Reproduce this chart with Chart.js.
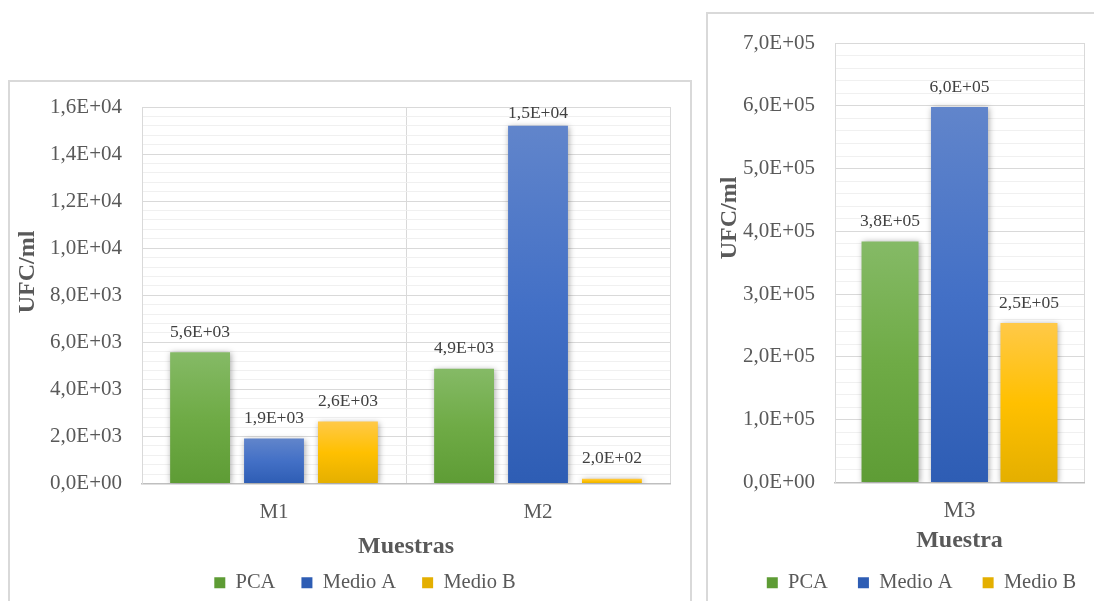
<!DOCTYPE html>
<html>
<head>
<meta charset="utf-8">
<script src="https://cdn.jsdelivr.net/npm/chart.js@4.4.1/dist/chart.umd.min.js"></script>
<style>
  html, body { margin: 0; padding: 0; background: #fff; overflow: hidden; width: 1094px; height: 601px; }
  .frame { position: absolute; box-sizing: border-box; border: 2px solid #d9d9d9; }
  canvas { position: absolute; }
</style>
</head>
<body>
<div class="frame" style="left:8px;top:80px;width:684px;height:560px"></div>
<div class="frame" style="left:706px;top:12px;width:420px;height:620px"></div>
<canvas id="chart-m12" width="710" height="522" style="left:10px;top:81px"></canvas>
<canvas id="chart-m3" width="427" height="590" style="left:708px;top:13px"></canvas>
<script>
// Samples M1 and M2
const samplesLeft = ['M1', 'M2'];
const pcaLeft = [5580, 4880];
const medioALeft = [1910, 15200];
const medioBLeft = [2630, 200];

// Sample M3
const samplesRight = ['M3'];
const pcaRight = [384000];
const medioARight = [598000];
const medioBRight = [254000];

const seriesNames = ['PCA', 'Medio A', 'Medio B'];

// y axis ranges: max, labelled step, minor grid step
const yLeft = [16000, 2000, 400];
const yRight = [700000, 100000, 20000];

const serif = '"Liberation Serif", "Times New Roman", serif';
Chart.defaults.font.family = serif;

// light / base / dark shade for each series
const fills = [
    ['#85ba66', '#6fab46', '#5e9c35'],
    ['#6185cb', '#4370c6', '#2e5db4'],
    ['#ffc948', '#ffc000', '#e4af00']
];

// 1,6E+04 style number
function sci(v) {
    const [m, e] = v.toExponential(1).split('e');
    return m.replace('.', ',') + 'E' + e[0] + e.slice(1).padStart(2, '0');
}

function barFill(c, stops) {
    const y = c.chart.scales.y;
    if (c.type !== 'data' || !y) return stops[1];
    const top = y.getPixelForValue(c.raw);
    const base = y.getPixelForValue(0);
    if (!isFinite(top) || !isFinite(base) || top === base) return stops[1];
    const g = c.chart.ctx.createLinearGradient(0, top, 0, base);
    g.addColorStop(0, stops[0]);
    g.addColorStop(0.5, stops[1]);
    g.addColorStop(1, stops[2]);
    return g;
}

// soft shadow under the bars, value labels above them
const barDecor = {
    id: 'barDecor',
    beforeDatasetsDraw(chart) {
        const ctx = chart.ctx;
        ctx.save();
        ctx.shadowColor = 'rgba(0, 0, 0, 0.35)';
        ctx.shadowBlur = 6;
        ctx.shadowOffsetX = 1;
        ctx.shadowOffsetY = 1;
    },
    afterDatasetsDraw(chart) {
        const ctx = chart.ctx;
        ctx.restore();
        ctx.save();
        ctx.font = '17.5px ' + serif;
        ctx.fillStyle = '#404040';
        ctx.textAlign = 'center';
        ctx.textBaseline = 'middle';
        chart.data.datasets.forEach((ds, i) => {
            chart.getDatasetMeta(i).data.forEach((bar, j) => {
                const y = Math.max(bar.y - 20, chart.chartArea.top + 6);
                ctx.fillText(sci(ds.data[j]), bar.x, y);
            });
        });
        ctx.restore();
    }
};

// rotated y axis title
const sideTitle = {
    id: 'sideTitle',
    afterDraw(chart, args, opts) {
        const ctx = chart.ctx;
        ctx.save();
        ctx.translate(opts.x, opts.y);
        ctx.rotate(-Math.PI / 2);
        ctx.font = 'bold 24px ' + serif;
        ctx.fillStyle = '#595959';
        ctx.textAlign = 'center';
        ctx.textBaseline = 'middle';
        ctx.fillText(opts.text, 0, 0);
        ctx.restore();
    }
};

function buildChart(id, o) {
    const [max, major, minor] = o.range;
    const isMajor = v => Math.abs(v % major) < 1e-6;
    return new Chart(document.getElementById(id), {
        type: 'bar',
        data: {
            labels: o.labels,
            datasets: o.series.map((vals, i) => ({
                label: seriesNames[i],
                data: vals,
                yAxisID: 'y',
                backgroundColor: c => barFill(c, fills[i]),
                borderWidth: 0,
                categoryPercentage: o.catPct,
                barPercentage: o.barPct
            }))
        },
        plugins: [barDecor, sideTitle],
        options: {
            responsive: false,
            animation: false,
            devicePixelRatio: 1,
            events: [],
            layout: { padding: { top: o.padTop, left: 0, right: 0, bottom: 0 } },
            plugins: {
                tooltip: { enabled: false },
                legend: {
                    position: 'bottom',
                    labels: {
                        boxWidth: 11,
                        boxHeight: 11,
                        padding: o.legendGap,
                        color: '#595959',
                        font: { family: serif, size: 20.5 }
                    }
                },
                sideTitle: { text: 'UFC/ml', x: o.titleX, y: o.titleY }
            },
            scales: {
                x: {
                    grid: { color: '#d9d9d9', drawTicks: false },
                    border: { color: '#bfbfbf', width: 1.5 },
                    ticks: { color: '#595959', padding: o.xTickPad, font: { family: serif, size: o.catSize } },
                    title: {
                        display: true,
                        text: o.xTitle,
                        color: '#595959',
                        font: { family: serif, size: 24, weight: 'bold' },
                        padding: { top: 0, bottom: o.xTitleShift }
                    },
                    afterFit: s => { s.height = o.xHeight; }
                },
                y: {
                    min: 0,
                    max: max,
                    grid: {
                        drawTicks: false,
                        color: c => (c.tick && isMajor(c.tick.value)) ? '#d9d9d9' : '#f0f0f0'
                    },
                    border: { color: '#d9d9d9' },
                    ticks: {
                        stepSize: minor,
                        autoSkip: false,
                        padding: 20,
                        color: '#595959',
                        font: { family: serif, size: 21 },
                        callback: v => isMajor(v) ? sci(v) : ''
                    },
                    // fixed width; the layout padding already leaves room for the end labels
                    afterFit: s => {
                        s.width = o.yWidth;
                        s.paddingTop = 0;
                        s.paddingBottom = 0;
                    }
                },
                // empty spacer on the right so the legend sits centred in the frame
                pad: {
                    type: 'linear',
                    position: 'right',
                    grid: { display: false },
                    border: { display: false },
                    ticks: { display: false },
                    afterFit: s => { s.width = o.padRight; }
                }
            }
        }
    });
}

buildChart('chart-m12', {
    labels: samplesLeft,
    series: [pcaLeft, medioALeft, medioBLeft],
    range: yLeft,
    padTop: 26,
    catPct: 0.84,
    barPct: 0.81,
    legendGap: 26,
    titleX: 18,
    titleY: 191,
    xTitle: 'Muestras',
    xTickPad: 16,
    catSize: 21,
    xTitleShift: -15,
    xHeight: 63,
    yWidth: 132,
    padRight: 50
});

buildChart('chart-m3', {
    labels: samplesRight,
    series: [pcaRight, medioARight, medioBRight],
    range: yRight,
    padTop: 30,
    catPct: 0.837,
    barPct: 0.82,
    legendGap: 30,
    titleX: 22,
    titleY: 205,
    xTitle: 'Muestra',
    xTickPad: 15,
    catSize: 23,
    xTitleShift: -13,
    xHeight: 60,
    yWidth: 127,
    padRight: 51
});
</script>
</body>
</html>
